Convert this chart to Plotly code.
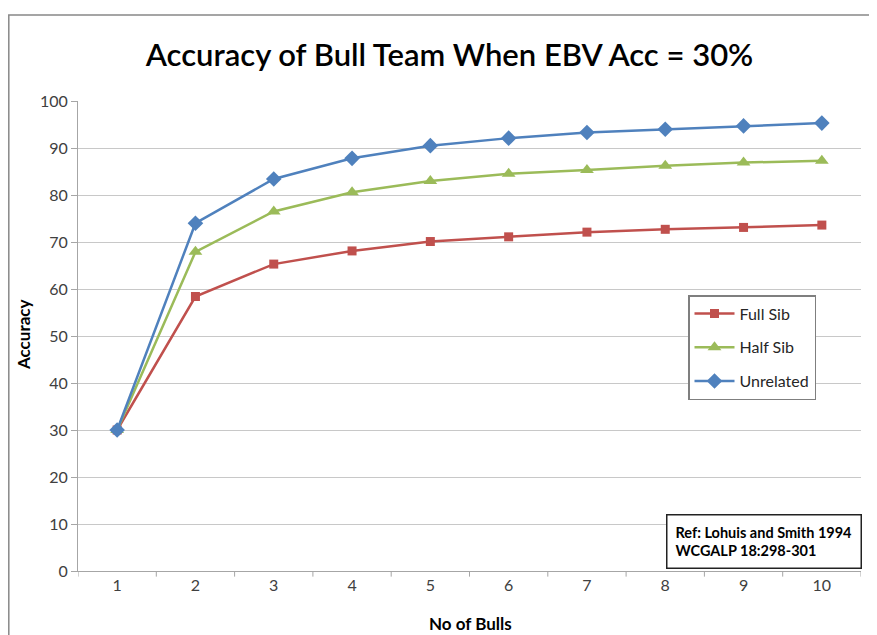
import plotly.graph_objects as go

bulls = [1, 2, 3, 4, 5, 6, 7, 8, 9, 10]
full_sib = [30.0, 58.4, 65.3, 68.1, 70.1, 71.1, 72.1, 72.7, 73.1, 73.6]
half_sib = [30.0, 67.9, 76.5, 80.6, 83.0, 84.5, 85.3, 86.2, 86.9, 87.3]
unrelated = [30.0, 74.0, 83.4, 87.8, 90.5, 92.1, 93.3, 94.0, 94.7, 95.3]

FONT = "Lato"
# page has an 8px body margin; figure sized so it fills the 877x635 window
W, H = 869, 627
fig = go.Figure()
fig.add_trace(go.Scatter(x=bulls, y=full_sib, name="Full Sib", mode="lines+markers",
                         legendgroup="a",
                         line=dict(color="#C0504D", width=2.5),
                         marker=dict(symbol="square", size=9, color="#C0504D")))
fig.add_trace(go.Scatter(x=bulls, y=half_sib, name="Half Sib", mode="lines+markers",
                         legendgroup="b",
                         line=dict(color="#9BBB59", width=2.5),
                         marker=dict(symbol="triangle-up", size=12, color="#9BBB59")))
fig.add_trace(go.Scatter(x=bulls, y=unrelated, name="Unrelated", mode="lines+markers",
                         legendgroup="c",
                         line=dict(color="#4F81BD", width=2.5),
                         marker=dict(symbol="diamond", size=12, color="#4F81BD")))

fig.update_layout(
    width=W, height=H,
    margin=dict(l=70, r=16, t=93, b=64),
    paper_bgcolor="white", plot_bgcolor="white",
    title=dict(text="Accuracy of Bull Team When EBV Acc = 30%", x=441.5 / W, xanchor="center",
               y=1 - 47 / H, yanchor="middle",
               font=dict(family=FONT, size=31, color="black", weight=600)),
    xaxis=dict(range=[0.5, 10.5], tickvals=bulls, showgrid=False, automargin=False,
               showline=True, linecolor="#A6A6A6", linewidth=1,
               ticks="", tickfont=dict(family=FONT, size=16, color="#404040"),
               zeroline=False),
    yaxis=dict(range=[0, 100], dtick=10, showgrid=True, gridcolor="#C8C8C8", gridwidth=1.2,
               automargin=False,
               showline=True, linecolor="#A6A6A6", linewidth=1,
               ticks="outside", ticklen=6, tickcolor="#A6A6A6",
               tickfont=dict(family=FONT, size=16, color="#404040"),
               zeroline=False),
    legend=dict(x=(688 - 78) / 783, y=(571 - 295) / 470, xanchor="left", yanchor="top",
                bgcolor="white", bordercolor="#7F7F7F", borderwidth=1.5,
                font=dict(family=FONT, size=16, color="#262626"),
                tracegroupgap=10, itemwidth=40),
    showlegend=True,
)

# axis titles
fig.add_annotation(xref="paper", yref="paper", x=(470 - 78) / 783, y=(571 - 623) / 470,
                   xanchor="center", yanchor="middle", showarrow=False,
                   text="<b>No of Bulls</b>", font=dict(family=FONT, size=17, color="black"))
fig.add_annotation(xref="paper", yref="paper", x=(23 - 78) / 783, y=(571 - 335) / 470,
                   xanchor="center", yanchor="middle", showarrow=False, textangle=-90,
                   text="<b>Accuracy</b>", font=dict(family=FONT, size=17, color="black"))

# category tick marks between categories
for i in range(11):
    xv = 0.5 + i
    fig.add_shape(type="line", xref="x", yref="paper", x0=xv, x1=xv, y0=0, y1=-0.012,
                  line=dict(color="#A6A6A6", width=1))

fig.add_annotation(xref="paper", yref="paper", x=(763.5 - 78) / 783, y=(571 - 541.5) / 470,
                   xanchor="center", yanchor="middle",
                   text="<b>Ref: Lohuis and Smith 1994<br>WCGALP 18:298-301</b>",
                   showarrow=False, align="left",
                   font=dict(family=FONT, size=14.5, color="black"),
                   bgcolor="white", bordercolor="#222222", borderwidth=1.5, borderpad=8)

# outer chart border
fig.add_shape(type="rect", xref="paper", yref="paper",
              x0=(8.8 - 78) / 783, x1=(900 - 78) / 783,
              y0=(571 - 660) / 470, y1=(571 - 15) / 470,
              line=dict(color="#888888", width=1.5), layer="below")

fig.write_html("out.html")
